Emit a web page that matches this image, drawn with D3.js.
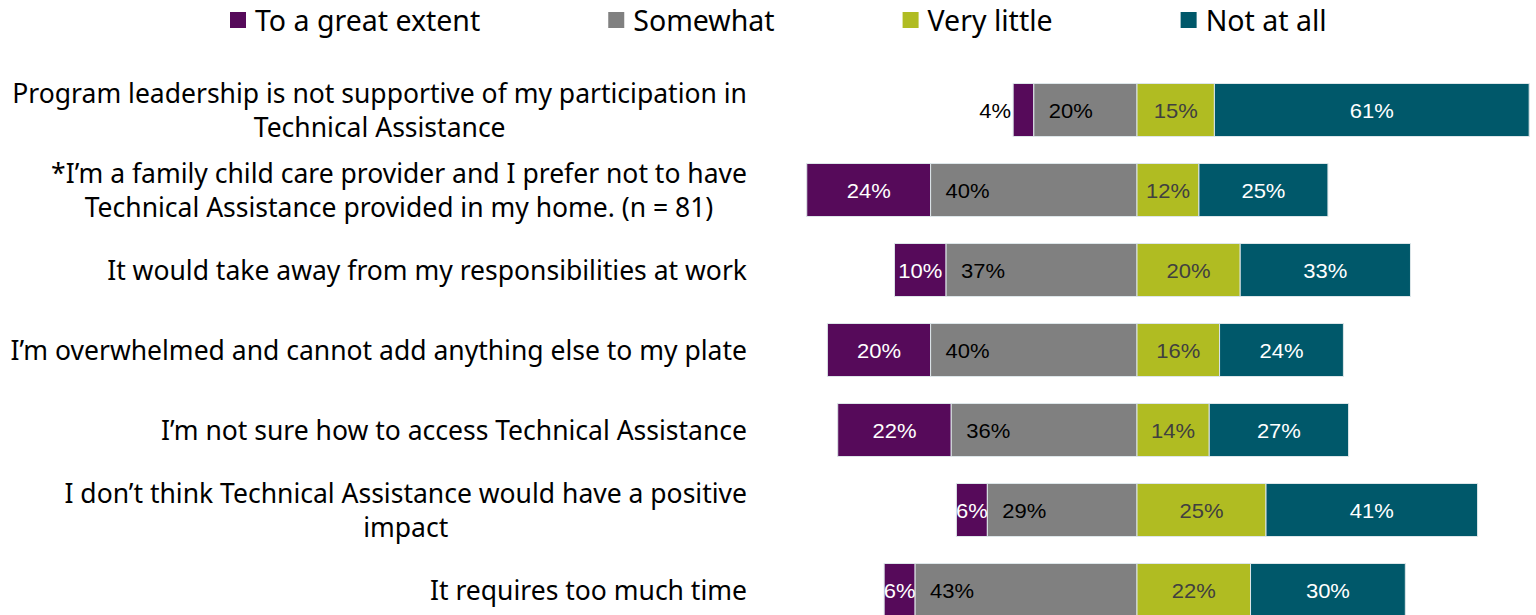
<!DOCTYPE html>
<html>
<head>
<meta charset="utf-8">
<script src="https://cdn.jsdelivr.net/npm/d3@7"></script>
<style>
  html, body { margin: 0; padding: 0; background: #ffffff; }
  svg { display: block; }
</style>
</head>
<body>
<svg id="chart" width="1536" height="615"></svg>
<script>
// Survey items (top to bottom), each split into text lines
const categories = [
  "Program leadership is not supportive of my participation in\nTechnical Assistance",
  "*I\u2019m a family child care provider and I prefer not to have\nTechnical Assistance provided in my home. (n = 81)",
  "It would take away from my responsibilities at work",
  "I\u2019m overwhelmed and cannot add anything else to my plate",
  "I\u2019m not sure how to access Technical Assistance",
  "I don\u2019t think Technical Assistance would have a positive\nimpact",
  "It requires too much time"
];

// Response shares (%) per item
const greatExtent = [4, 24, 10, 20, 22, 6, 6];
const somewhat    = [20, 40, 37, 40, 36, 29, 43];
const veryLittle  = [15, 12, 20, 16, 14, 25, 22];
const notAtAll    = [61, 25, 33, 24, 27, 41, 30];

const seriesNames  = ["To a great extent", "Somewhat", "Very little", "Not at all"];
const seriesColors = ["#560a5a", "#808080", "#b0bc22", "#00586a"];
const labelColors  = ["#ffffff", "#000000", "#404040", "#ffffff"];

const svg = d3.select("#chart");
const catFont = "'Noto Sans', Lato, sans-serif";
const valFont = "'Liberation Sans', Arial, sans-serif";
const stretch = 1.1; // horizontal stretch for the value labels

// Diverging axis: "to a great extent" + "somewhat" to the left of zero
const x = d3.scaleLinear().domain([-70, 80]).range([1137 - 70 * 5.16, 1137 + 80 * 5.16]);
const y = d3.scaleBand().domain(d3.range(categories.length))
  .range([70, 630]).paddingInner(0.3375).paddingOuter(0.16875);

// Build segments for each row
const rows = categories.map((c, i) => {
  const g = greatExtent[i], s = somewhat[i], v = veryLittle[i], n = notAtAll[i];
  return {
    i,
    segs: [
      { k: 0, v: g, x0: -(g + s), x1: -s },
      { k: 1, v: s, x0: -s, x1: 0 },
      { k: 2, v: v, x0: 0, x1: v },
      { k: 3, v: n, x0: v, x1: v + n }
    ]
  };
});

const rowG = svg.append("g").selectAll("g").data(rows).join("g");

rowG.selectAll("rect").data(d => d.segs.map(s => ({ ...s, i: d.i }))).join("rect")
  .attr("x", d => x(d.x0))
  .attr("y", d => y(d.i))
  .attr("width", d => x(d.x1) - x(d.x0))
  .attr("height", y.bandwidth())
  .attr("fill", d => seriesColors[d.k])
  .attr("stroke", "#dde6e9")
  .attr("stroke-width", 1);

// Value labels (scaled horizontally around their anchor)
rowG.selectAll("text.val").data(d => d.segs.map(s => ({ ...s, i: d.i }))).join("text")
  .attr("class", "val")
  .attr("font-family", valFont)
  .attr("font-size", 20)
  .attr("dominant-baseline", "central")
  .each(function (d) {
    const t = d3.select(this);
    let ax, anchor, fill = labelColors[d.k];
    if (d.k === 0 && d.v < 5) {
      // too narrow: place just outside the bar
      ax = x(d.x0) - 2; anchor = "end"; fill = "#000000";
    } else if (d.k === 1) {
      ax = x(d.x0) + 15; anchor = "start";
    } else {
      ax = (x(d.x0) + x(d.x1)) / 2; anchor = "middle";
    }
    const ay = y(d.i) + y.bandwidth() / 2 + 1;
    t.attr("text-anchor", anchor).attr("fill", fill)
      .attr("x", 0).attr("y", 0)
      .attr("transform", `translate(${ax},${ay}) scale(${stretch},1)`);
  })
  .text(d => d.v + "%");

// Category labels: block right-aligned, lines centred within the block
const labelRight = 747;
const lineGap = 34;
categories.forEach((c, i) => {
  const lines = c.split("\n");
  const g = svg.append("g");
  const cy = y(i) + y.bandwidth() / 2;
  const texts = lines.map((ln, j) => g.append("text")
    .attr("font-family", catFont)
    .attr("font-size", 26.5)
    .attr("fill", "#000000")
    .attr("text-anchor", "middle")
    .attr("dominant-baseline", "central")
    .attr("y", cy + (j - (lines.length - 1) / 2) * lineGap)
    .text(ln));
  const maxW = d3.max(texts, t => t.node().getComputedTextLength());
  texts.forEach(t => t.attr("x", labelRight - maxW / 2));
});

// Legend
const legend = svg.append("g");
let lx = 230;
seriesNames.forEach((name, k) => {
  legend.append("rect")
    .attr("x", lx).attr("y", 12).attr("width", 16).attr("height", 16)
    .attr("fill", seriesColors[k]);
  const t = legend.append("text")
    .attr("x", lx + 25).attr("y", 20)
    .attr("font-family", catFont)
    .attr("font-size", 28.5)
    .attr("dominant-baseline", "central")
    .attr("fill", "#000000")
    .text(name);
  lx = lx + 25 + t.node().getComputedTextLength() + 128;
});
</script>
</body>
</html>
